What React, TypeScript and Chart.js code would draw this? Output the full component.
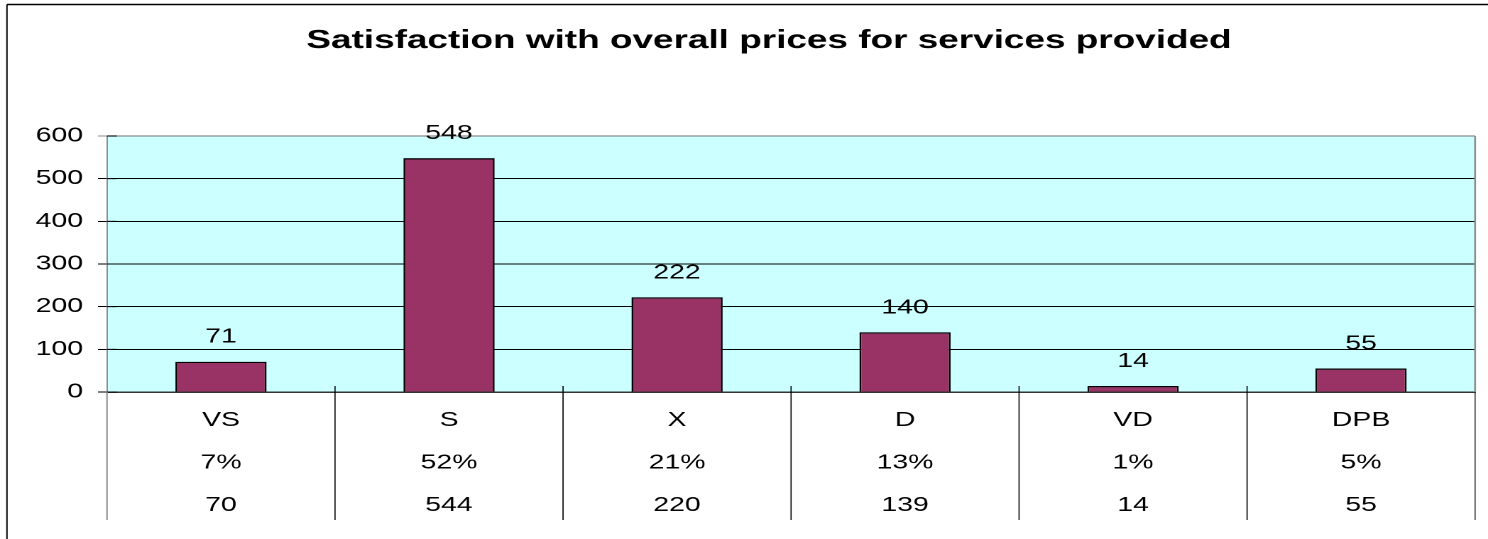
import React, { useEffect, useRef } from 'react';
import { Chart, registerables } from 'chart.js';

Chart.register(...registerables);

// ---- data ----
const categories = ['VS', 'S', 'X', 'D', 'VD', 'DPB'];
const barValues = [71, 548, 222, 140, 14, 55];
const percentLabels = ['7%', '52%', '21%', '13%', '1%', '5%'];
const countLabels = ['70', '544', '220', '139', '14', '55'];
const yTicks = [0, 100, 200, 300, 400, 500, 600];
const titleText = 'Satisfaction with overall prices for services provided';

// ---- layout constants ----
const OUT_W = 1488;
const OUT_H = 539;
const W = 1048; // canvas drawn narrower, then stretched horizontally
const H = 539;
const STRETCH = OUT_W / W;
const FONT = "'Liberation Sans', Arial, Helvetica, sans-serif";

const PAD_L = 12;
const PAD_R = 9.1;
const PAD_T = 136;
const PLOT_LEFT = 75.36;
const PLOT_BOTTOM = 392;
const FRAME_X = 4.9;
const FRAME_Y = 4.5;
const TABLE_BOTTOM = 520;
const TITLE_X = 541.6;
const TITLE_Y = 40.7;

const yMin = yTicks[0];
const yMax = yTicks[yTicks.length - 1];

const decorPlugin = {
  id: 'decor',
  beforeDraw(chart: any) {
    const { ctx, chartArea: a } = chart;
    ctx.save();
    ctx.fillStyle = '#ffffff';
    ctx.fillRect(0, 0, chart.width, chart.height);
    ctx.fillStyle = '#CCFFFF';
    ctx.fillRect(a.left, a.top, a.right - a.left, a.bottom - a.top);
    // outer frame (top & left visible)
    ctx.strokeStyle = '#000';
    ctx.lineWidth = 1.6;
    ctx.beginPath();
    ctx.moveTo(FRAME_X, FRAME_Y);
    ctx.lineTo(chart.width + 2, FRAME_Y);
    ctx.stroke();
    ctx.lineWidth = 1;
    ctx.beginPath();
    ctx.moveTo(FRAME_X, FRAME_Y);
    ctx.lineTo(FRAME_X, chart.height + 2);
    ctx.stroke();
    // title
    ctx.fillStyle = '#000';
    ctx.font = `bold 26px ${FONT}`;
    ctx.textAlign = 'center';
    ctx.textBaseline = 'middle';
    ctx.fillText(titleText, TITLE_X, TITLE_Y);
    ctx.restore();
  },
  afterDraw(chart: any) {
    const { ctx, chartArea: a } = chart;
    const xs = chart.scales.x;
    const ys = chart.scales.y;
    ctx.save();
    // top & right plot border
    ctx.strokeStyle = '#8c8c8c';
    ctx.lineWidth = 1.2;
    ctx.beginPath();
    ctx.moveTo(a.left, a.top);
    ctx.lineTo(a.right, a.top);
    ctx.stroke();
    ctx.lineWidth = 1.3;
    ctx.beginPath();
    ctx.moveTo(a.right, a.top);
    ctx.lineTo(a.right, a.bottom);
    ctx.stroke();
    // inner y tick marks
    ctx.strokeStyle = '#000';
    ctx.lineWidth = 1;
    ys.ticks.forEach((t: any) => {
      const py = ys.getPixelForValue(t.value);
      ctx.beginPath();
      ctx.moveTo(a.left, py);
      ctx.lineTo(a.left + 7, py);
      ctx.stroke();
    });
    // category table separators
    const n = categories.length;
    for (let k = 0; k <= n; k++) {
      const px = xs.getPixelForValue(k - 0.5);
      ctx.beginPath();
      if (k === 0) {
        ctx.strokeStyle = '#8c8c8c';
        ctx.lineWidth = 1;
        ctx.moveTo(px, a.bottom);
      } else if (k === n) {
        ctx.strokeStyle = '#333';
        ctx.lineWidth = 0.8;
        ctx.moveTo(px, a.bottom);
      } else {
        ctx.strokeStyle = '#000';
        ctx.lineWidth = 0.8;
        ctx.moveTo(px, a.bottom - 6);
      }
      ctx.lineTo(px, TABLE_BOTTOM);
      ctx.stroke();
    }
    // data labels
    const meta = chart.getDatasetMeta(0);
    ctx.fillStyle = '#000';
    ctx.font = `20px ${FONT}`;
    ctx.textAlign = 'center';
    ctx.textBaseline = 'middle';
    meta.data.forEach((bar: any, i: number) => {
      ctx.fillText(String(barValues[i]), bar.x, bar.y - 24.5);
    });
    ctx.restore();
  },
};

export default function App() {
  const canvasRef = useRef<HTMLCanvasElement | null>(null);

  useEffect(() => {
    if (!canvasRef.current) return;
    const labels = categories.map((c, i) => [c, percentLabels[i], countLabels[i]]);
    const chart = new Chart(canvasRef.current, {
      type: 'bar',
      data: {
        labels,
        datasets: [
          {
            data: barValues,
            backgroundColor: '#993366',
            borderColor: '#000000',
            borderWidth: 1.3,
            barPercentage: 0.4,
            categoryPercentage: 1,
          },
        ],
      },
      plugins: [decorPlugin],
      options: {
        animation: false,
        responsive: false,
        devicePixelRatio: 2,
        layout: { padding: { left: PAD_L, right: PAD_R, top: PAD_T, bottom: 0 } },
        plugins: {
          legend: { display: false },
          tooltip: { enabled: false },
          title: { display: false },
        },
        scales: {
          x: {
            type: 'category',
            offset: true,
            grid: { display: false, drawTicks: false },
            border: { display: true, color: '#333333', width: 1.5 },
            ticks: {
              color: '#000',
              font: { family: FONT, size: 20, lineHeight: 2.125 },
              padding: 7.45,
              maxRotation: 0,
              minRotation: 0,
              autoSkip: false,
            },
            afterFit: (scale: any) => {
              scale.height = H - PLOT_BOTTOM;
            },
          },
          y: {
            min: yMin,
            max: yMax,
            ticks: {
              stepSize: yTicks[1] - yTicks[0],
              color: '#000',
              font: { family: FONT, size: 20 },
              padding: 10.56,
            },
            grid: {
              color: (c: any) => (c.tick && c.tick.value === yMax ? '#8c8c8c' : '#000000'),
              lineWidth: 1,
              drawTicks: true,
              tickLength: 6.34,
            },
            border: { display: true, color: '#8c8c8c', width: 1 },
            afterFit: (scale: any) => {
              scale.width = PLOT_LEFT - PAD_L;
            },
          },
        },
      },
    } as any);
    return () => chart.destroy();
  }, []);

  return (
    <div
      style={{
        position: 'fixed',
        left: 0,
        top: 0,
        width: OUT_W,
        height: OUT_H,
        overflow: 'hidden',
        background: '#fff',
      }}
    >
      <div
        style={{
          width: W,
          height: H,
          transform: `scaleX(${STRETCH})`,
          transformOrigin: '0 0',
        }}
      >
        <canvas ref={canvasRef} width={W} height={H} style={{ display: 'block', width: W, height: H }} />
      </div>
    </div>
  );
}
